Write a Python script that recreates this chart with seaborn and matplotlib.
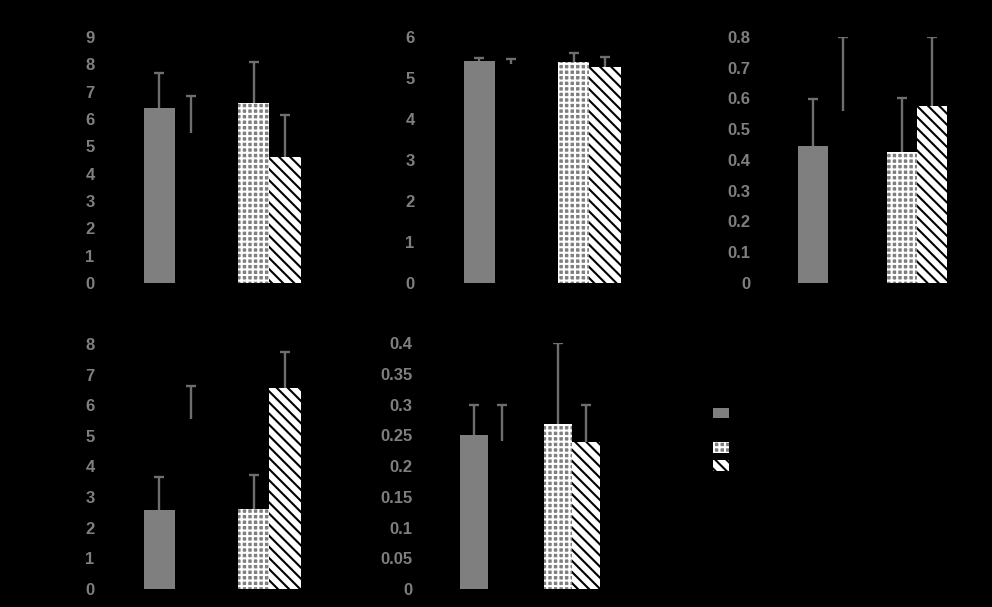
import numpy as np
import pandas as pd
import matplotlib
matplotlib.use("Agg")
import matplotlib.pyplot as plt
import seaborn as sns
from matplotlib.patches import Patch
from matplotlib.ticker import MultipleLocator, FuncFormatter

# ---- data ----
groups = ["G1", "G2"]
positions = ["left", "right"]
series = ["Series 1", "Series 2", "Series 3", "Series 4"]  # legend text (black on black)

p1_vals = [6.4, 5.5, 6.6, 4.6]
p1_errs = [1.3, 1.35, 1.5, 1.55]
p2_vals = [5.41, 5.33, 5.38, 5.28]
p2_errs = [0.08, 0.13, 0.23, 0.23]
p3_vals = [0.446, 0.56, 0.427, 0.576]
p3_errs = [0.152, 0.24, 0.173, 0.224]
p4_vals = [2.58, 5.55, 2.62, 6.57]
p4_errs = [1.07, 1.09, 1.11, 1.17]
p5_vals = [0.25, 0.241, 0.268, 0.239]
p5_errs = [0.05, 0.059, 0.132, 0.061]

y_max = [9, 6, 0.8, 8, 0.4]
y_step = [1, 1, 0.1, 1, 0.05]

GREY = "#7f7f7f"
ERR = "#6e6e6e"

sns.set_style("dark", {"axes.facecolor": "black", "figure.facecolor": "black"})
plt.rcParams["font.family"] = ["Liberation Sans", "DejaVu Sans"]
plt.rcParams["font.weight"] = "bold"
plt.rcParams["hatch.linewidth"] = 1.5

# face, edge (= hatch colour), hatch for each series
styles = [
    dict(facecolor=GREY, edgecolor=GREY, hatch=None),
    dict(facecolor="black", edgecolor="black", hatch=None),
    dict(facecolor=GREY, edgecolor="white", hatch="+++"),
    dict(facecolor="white", edgecolor="black", hatch="\\\\\\"),
]

fig = plt.figure(figsize=(9.92, 6.07), dpi=100)
fig.patch.set_facecolor("black")

boxes = [
    [0.129, 0.534, 0.190, 0.405],
    [0.4516, 0.534, 0.190, 0.405],
    [0.790, 0.534, 0.179, 0.405],
    [0.129, 0.0297, 0.190, 0.4036],
    [0.4496, 0.0297, 0.169, 0.405],
]
panels = [(p1_vals, p1_errs), (p2_vals, p2_errs), (p3_vals, p3_errs),
          (p4_vals, p4_errs), (p5_vals, p5_errs)]

for i, (vals, errs) in enumerate(panels):
    ax = fig.add_axes(boxes[i])
    df = pd.DataFrame({
        "group": [groups[0], groups[0], groups[1], groups[1]],
        "pos": [positions[0], positions[1], positions[0], positions[1]],
        "value": vals,
    })
    sns.barplot(data=df, x="group", y="value", hue="pos", order=groups,
                hue_order=positions, width=0.67, errorbar=None,
                legend=False, ax=ax)
    bar_conts = list(ax.containers)
    for h, cont in enumerate(bar_conts):
        for c, bar in enumerate(cont.patches):
            s = c * 2 + h
            st = styles[s]
            bar.set_facecolor(st["facecolor"])
            bar.set_edgecolor(st["edgecolor"])
            bar.set_hatch(st["hatch"])
            bar.set_linewidth(0)
            xc = bar.get_x() + bar.get_width() / 2
            eb = ax.errorbar(xc, bar.get_height(), yerr=[[0], [errs[s]]],
                             fmt="none", ecolor=ERR, elinewidth=1.7,
                             capsize=3.5, capthick=1.7, zorder=5)
            # only the upper cap, like the reference
            for cap in eb[1]:
                if np.allclose(cap.get_ydata(), bar.get_height()):
                    cap.set_visible(False)
    ax.set_xlim(-0.5, 1.5)
    ax.set_ylim(0, y_max[i])
    ax.yaxis.set_major_locator(MultipleLocator(y_step[i]))
    ax.yaxis.set_major_formatter(FuncFormatter(lambda v, p: f"{v:g}"))
    ax.set_xlabel("")
    ax.set_ylabel("")
    ax.grid(False)
    for sp in ax.spines.values():
        sp.set_visible(False)
    ax.tick_params(axis="x", labelbottom=False, length=0)
    ax.tick_params(axis="y", length=0, pad=24, labelcolor=GREY, labelsize=12)

handles = [Patch(facecolor=st["facecolor"], edgecolor=st["edgecolor"],
                 hatch=st["hatch"], linewidth=0) for st in styles]
fig.legend(handles, series, loc="upper left", bbox_to_anchor=(0.719, 0.33),
           frameon=False, fontsize=10, labelcolor="black", handlelength=1.1,
           handleheight=0.8, labelspacing=0.25, borderpad=0, borderaxespad=0,
           handletextpad=0.6)

fig.savefig("out.png", dpi=100, facecolor="black")
